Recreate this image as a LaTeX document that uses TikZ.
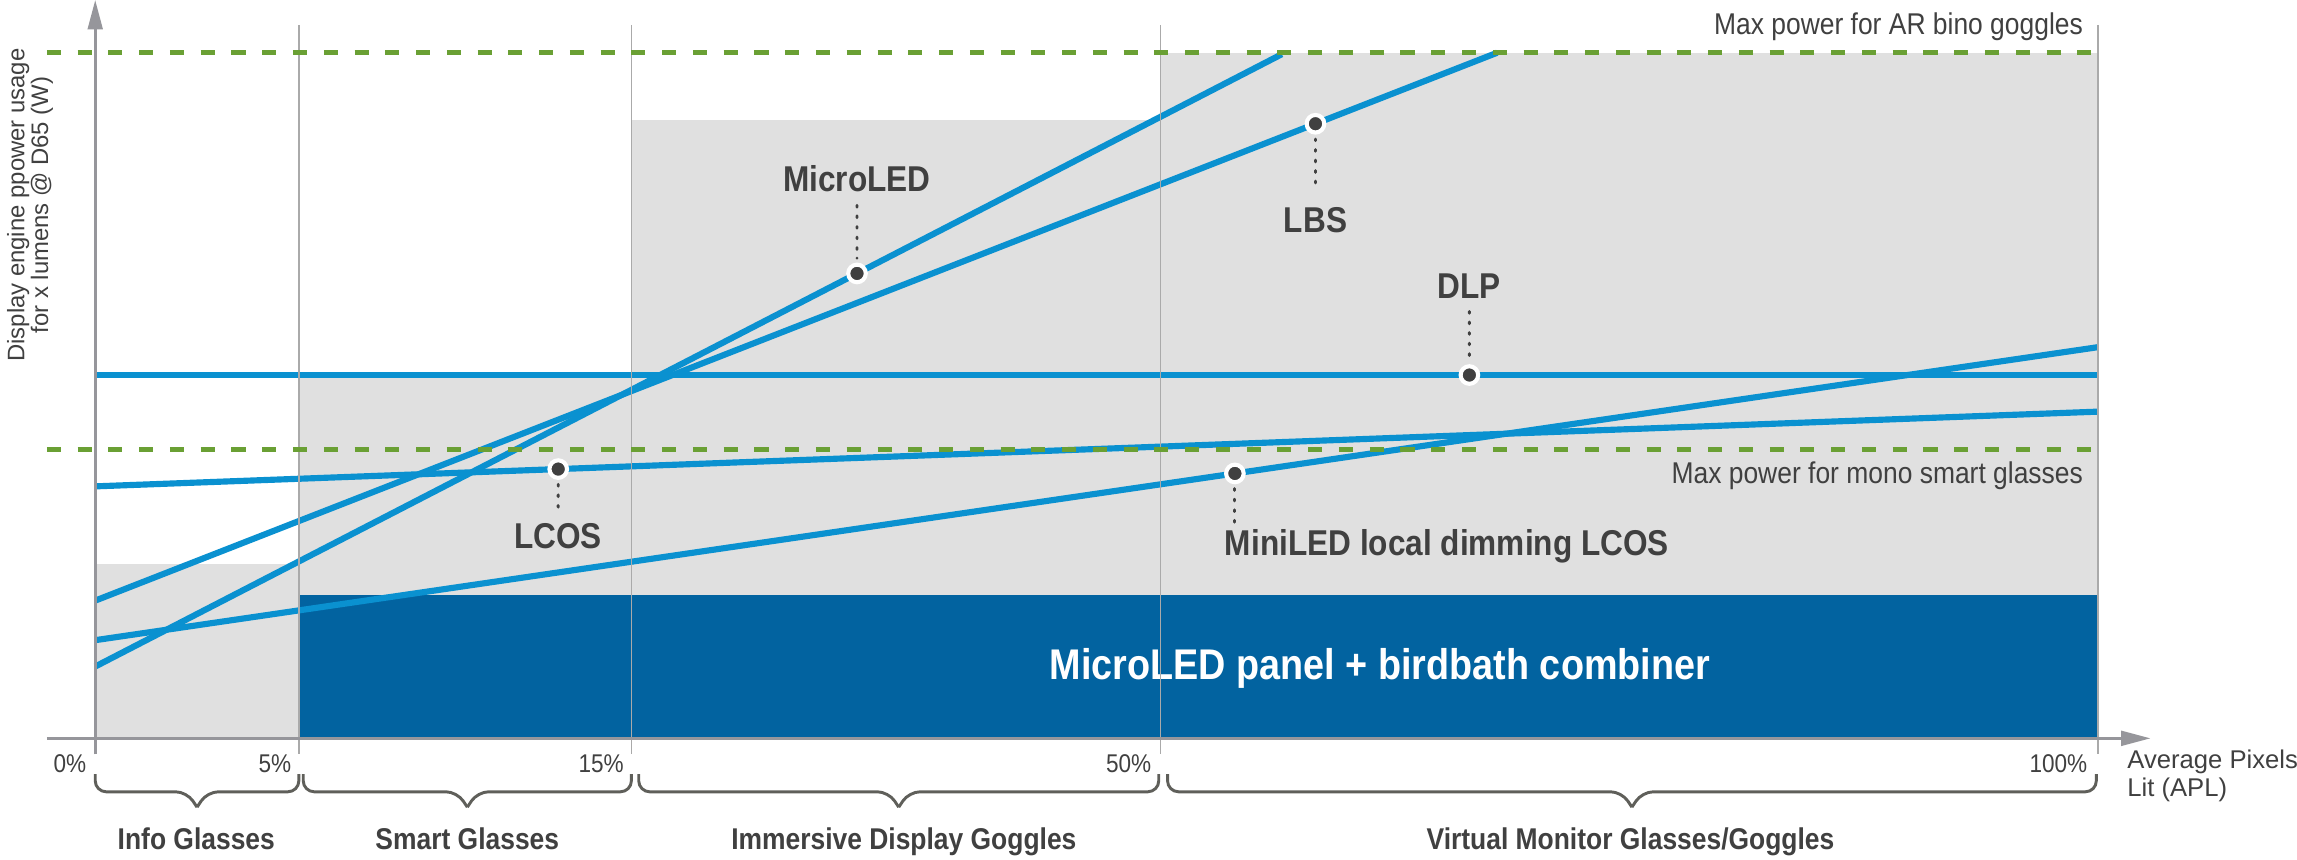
\documentclass[tikz,border=0pt]{standalone}
\usepackage{fontspec}
\setmainfont[FakeStretch=0.88]{Liberation Sans}
\newfontfamily\widefont{Liberation Sans}
\usetikzlibrary{arrows.meta,calc}
\definecolor{lineblue}{RGB}{10,145,208}
\definecolor{darkblue}{RGB}{2,99,160}
\definecolor{lgray}{RGB}{224,224,224}
\definecolor{dgreen}{RGB}{106,160,52}
\definecolor{gridgray}{RGB}{170,170,170}
\definecolor{axisgray}{RGB}{150,150,155}
\definecolor{txt}{RGB}{64,64,64}
\definecolor{bracegray}{RGB}{95,95,90}
\tikzset{
  techline/.style={draw=lineblue, line width=4.2},
  gridline/.style={draw=gridgray, line width=1},
  limitline/.style={draw=dgreen, line width=3.2, dash pattern=on 9.6 off 11.4},
  axisline/.style={draw=axisgray, line width=2, -{Triangle[length=20,width=10]}},
  leader/.style={draw=txt, line width=2, line cap=round, dash pattern=on 1.2 off 6},
  pdot/.style={circle, fill=txt, draw=white, line width=2.8, inner sep=0, minimum size=12},
  techlabel/.style={text=txt, font=\bfseries\fontsize{24.5}{28}\selectfont, inner sep=0},
  notelabel/.style={text=txt, font=\fontsize{20.5}{24}\selectfont, inner sep=0},
  ticklabel/.style={text=txt, font=\fontsize{17.5}{20}\selectfont, inner sep=0},
  axislabel/.style={text=txt, font=\widefont\fontsize{17.5}{19}\selectfont, inner sep=0},
  grouplabel/.style={text=txt, font=\bfseries\fontsize{20.5}{24}\selectfont, inner sep=0},
  bracepath/.style={draw=bracegray, line width=2, rounded corners=7.5},
}
\begin{document}
\begin{tikzpicture}[x=1pt,y=-1pt]
\useasboundingbox (0,0) rectangle (1568,586.4);
% background regions
\fill[lgray] (65,385) rectangle (204,504);
\fill[lgray] (204,256) rectangle (431,504);
\fill[lgray] (431,82) rectangle (792,504);
\fill[lgray] (792,36) rectangle (1432,504);
\fill[darkblue] (204,406) rectangle (1432,504);
\node[text=white, font=\bfseries\fontsize{29.3}{34}\selectfont, inner sep=0] (panel) at (942,456) {MicroLED panel + birdbath combiner};
% technology lines
\coordinate (dlpA) at (65,256);   \coordinate (dlpB) at (1432,256);
\coordinate (lcA) at (65,332);    \coordinate (lcB) at (1432,281);
\coordinate (miA) at (65,437);    \coordinate (miB) at (1432,237);
\coordinate (muA) at (65,455);    \coordinate (muB) at (875,37);
\coordinate (lbA) at (65,410);    \coordinate (lbB) at (1022,36);
\draw[techline] (dlpA) -- (dlpB);
\draw[techline] (lcA) -- (lcB);
\draw[techline] (miA) -- (miB);
\draw[techline] (muA) -- (muB);
\draw[techline] (lbA) -- (lbB);
% grid lines
\foreach \gx/\gn in {204/g5,431/g15,792/g50,1432/g100}{
  \coordinate (\gn t) at (\gx,17);
  \coordinate (\gn b) at (\gx,515);
  \draw[gridline] (\gn t) -- (\gn b);
}
% limit lines
\coordinate (arA) at (32,36); \coordinate (arB) at (1432,36);
\coordinate (moA) at (32,307); \coordinate (moB) at (1432,307);
\draw[limitline] (arA) -- (arB);
\draw[limitline] (moA) -- (moB);
\node[notelabel, anchor=east] (arlab) at (1422,18) {Max power for AR bino goggles};
\node[notelabel, anchor=east] (molab) at (1422,325) {Max power for mono smart glasses};
% axes
\coordinate (yb) at (65,515); \coordinate (yt) at (65,0);
\coordinate (xl) at (32,504); \coordinate (xr) at (1468,504);
\draw[axisline] (yb) -- (yt);
\draw[axisline] (xl) -- (xr);
\node[rotate=90, align=center, text=txt, font=\widefont\fontsize{16.3}{15}\selectfont, inner sep=0] (ylab) at (20.5,140) {Display engine ppower usage\\for x lumens @ D65 (W)};
% tick labels
\node[ticklabel, anchor=base east] (t0) at (59,527) {0\%};
\node[ticklabel, anchor=base east] (t5) at (199,527) {5\%};
\node[ticklabel, anchor=base east] (t15) at (426,527) {15\%};
\node[ticklabel, anchor=base east] (t50) at (786,527) {50\%};
\node[ticklabel, anchor=base east] (t100) at (1425,527) {100\%};
\node[axislabel, anchor=base west] (xlab1) at (1452,524.5) {Average Pixels};
\node[axislabel, anchor=base west] (xlab2) at (1452,543.8) {Lit (APL)};
% points and leaders
\path (muA) -- (muB) node[pdot, pos=0.642] (muDot) {};
\path (lbA) -- (lbB) node[pdot, pos=0.8704] (lbDot) {};
\path (dlpA) -- (dlpB) node[pdot, pos=0.6862] (dlpDot) {};
\path (lcA) -- (lcB) node[pdot, pos=0.2312] (lcDot) {};
\path (miA) -- (miB) node[pdot, pos=0.5691] (miDot) {};
\node[techlabel] (muLab) at (585,122) {MicroLED};
\node[techlabel] (lbLab) at (898,150) {LBS};
\node[techlabel] (dlpLab) at (1003,195) {DLP};
\node[techlabel] (lcLab) at (381,366) {LCOS};
\node[techlabel, anchor=west] (miLab) at (836,373) {MiniLED local dimming LCOS};
\draw[leader] ($(muLab.south)+(0,9)$) -- ($(muDot.north)+(0,-3)$);
\draw[leader] ($(lbDot.south)+(0,3)$) -- ($(lbLab.north)+(0,-11)$);
\draw[leader] ($(dlpLab.south)+(0,9)$) -- ($(dlpDot.north)+(0,-3)$);
\draw[leader] ($(lcDot.south)+(0,3)$) -- ($(lcLab.north)+(0,-8)$);
\draw[leader] ($(miDot.south)+(0,3)$) -- ($(miDot.south)+(0,26)$);
% braces
\foreach \a/\b/\n in {65/204/bi,207/431/bs,436/791/bm,797/1431/bv}{
  \coordinate (\n L) at (\a,528.5);
  \coordinate (\n R) at (\b,528.5);
  \coordinate (\n T) at ({(\a+\b)/2},551);
  \draw[bracepath] (\n L) |- ($(\n T)+(-7,-10.5)$) -- (\n T);
  \draw[bracepath] (\n R) |- ($(\n T)+(7,-10.5)$) -- (\n T);
}
\node[grouplabel, anchor=base] (gi) at (134,580) {Info Glasses};
\node[grouplabel, anchor=base] (gs) at (319,580) {Smart Glasses};
\node[grouplabel, anchor=base] (gm) at (617,580) {Immersive Display Goggles};
\node[grouplabel, anchor=base] (gv) at (1113,580) {Virtual Monitor Glasses/Goggles};
\end{tikzpicture}
\end{document}
